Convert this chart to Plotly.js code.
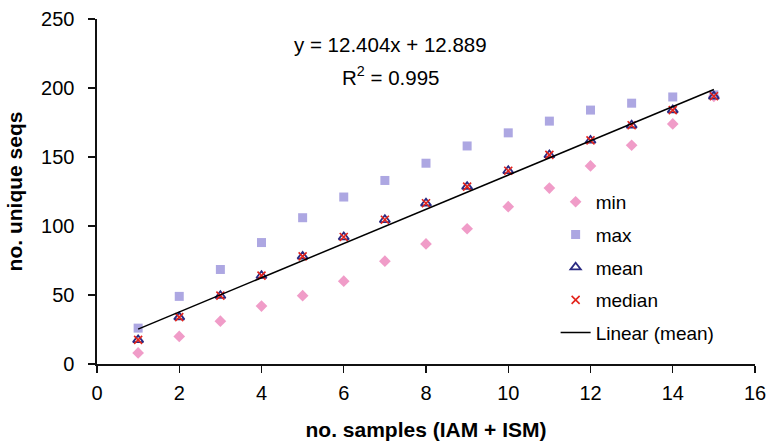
<!DOCTYPE html>
<html><head><meta charset="utf-8">
<script src="https://cdn.plot.ly/plotly-3.0.1.min.js"></script>
<style>html,body{margin:0;padding:0;background:#fff}#chart{width:767px;height:445px}</style>
</head><body><div id="chart"></div>
<script>
const samples = [1,2,3,4,5,6,7,8,9,10,11,12,13,14,15];
const minVals = [8,20,31,42,49.5,60,74.5,87,98,114,127.5,143.5,158.5,174,194];
const maxVals = [26,49,68.5,88,106,121,133,145.5,158,167.5,176,184,189,193.5,195];
const meanVals = [17.5,34,49.5,64,78,92,104.5,116.5,128.5,140,151.5,162,173,184,194];
const medianVals = [17.5,34,49.5,64,78,92,104.5,116.5,128.5,140,151.5,162,173,184,194];
const slope = 12.404, intercept = 12.889, r2 = 0.995;
const fitX = [samples[0], samples[samples.length-1]];
const fitY = fitX.map(x => slope*x + intercept);

const fam = 'Liberation Sans, Arial, Helvetica, sans-serif';
const f = (s) => ({family:fam, size:s, color:'#000'});
const traces = [
 {x:samples,y:minVals,name:'min',mode:'markers',type:'scatter',legendgroup:'a',
  marker:{symbol:'diamond',size:9,color:'#F09CC8'}},
 {x:samples,y:maxVals,name:'max',mode:'markers',type:'scatter',legendgroup:'b',
  marker:{symbol:'square',size:9,color:'#ADA7E2'}},
 {x:samples,y:meanVals,name:'mean',mode:'markers',type:'scatter',legendgroup:'c',
  marker:{symbol:'triangle-up-open',size:9,color:'#2B2A82',line:{width:1.8,color:'#2B2A82'}}},
 {x:samples,y:medianVals,name:'median',mode:'markers',type:'scatter',legendgroup:'d',
  marker:{symbol:'x-thin-open',size:8,color:'#E3231B',line:{width:1.6,color:'#E3231B'}}},
 {x:fitX,y:fitY,name:'Linear (mean)',mode:'lines',type:'scatter',legendgroup:'e',
  line:{color:'#000',width:1.5}}
];
const layout = {
 width:767,height:445,
 margin:{l:97,r:12,t:19,b:81},
 paper_bgcolor:'#fff',plot_bgcolor:'#fff',
 font:f(19),
 showlegend:true,
 legend:{x:0.697,y:0.525,xanchor:'left',yanchor:'top',bgcolor:'rgba(0,0,0,0)',
   font:f(19),traceorder:'grouped',tracegroupgap:5,itemwidth:30},
 xaxis:{range:[0,16],dtick:2,tick0:0,showgrid:false,zeroline:false,showline:true,
   linecolor:'#111',linewidth:1.6,ticks:'outside',ticklen:7,tickwidth:1.4,tickcolor:'#111',
   tickfont:f(20),ticklabelstandoff:3,automargin:false,
   title:{text:'<b>no. samples (IAM + ISM)</b>',font:f(21),standoff:20}},
 yaxis:{range:[0,250],dtick:50,tick0:0,showgrid:false,zeroline:false,showline:true,
   linecolor:'#111',linewidth:1.6,ticks:'outside',ticklen:7,tickwidth:1.4,tickcolor:'#111',
   tickfont:f(20),ticklabelstandoff:10,automargin:false,
   title:{text:'<b>no. unique seqs</b>',font:f(21),standoff:12}},
 annotations:[
  {xref:'paper',yref:'paper',x:0.446,y:0.925,xanchor:'center',yanchor:'middle',showarrow:false,
   text:'y = '+slope.toFixed(3)+'x + '+intercept.toFixed(3),font:f(20.5)},
  {xref:'paper',yref:'paper',x:0.446,y:0.835,xanchor:'center',yanchor:'middle',showarrow:false,
   text:'R<sup>2</sup> = '+r2.toFixed(3),font:f(20.5)}
 ]
};
Plotly.newPlot('chart',traces,layout,{displayModeBar:false,staticPlot:true});
</script></body></html>
